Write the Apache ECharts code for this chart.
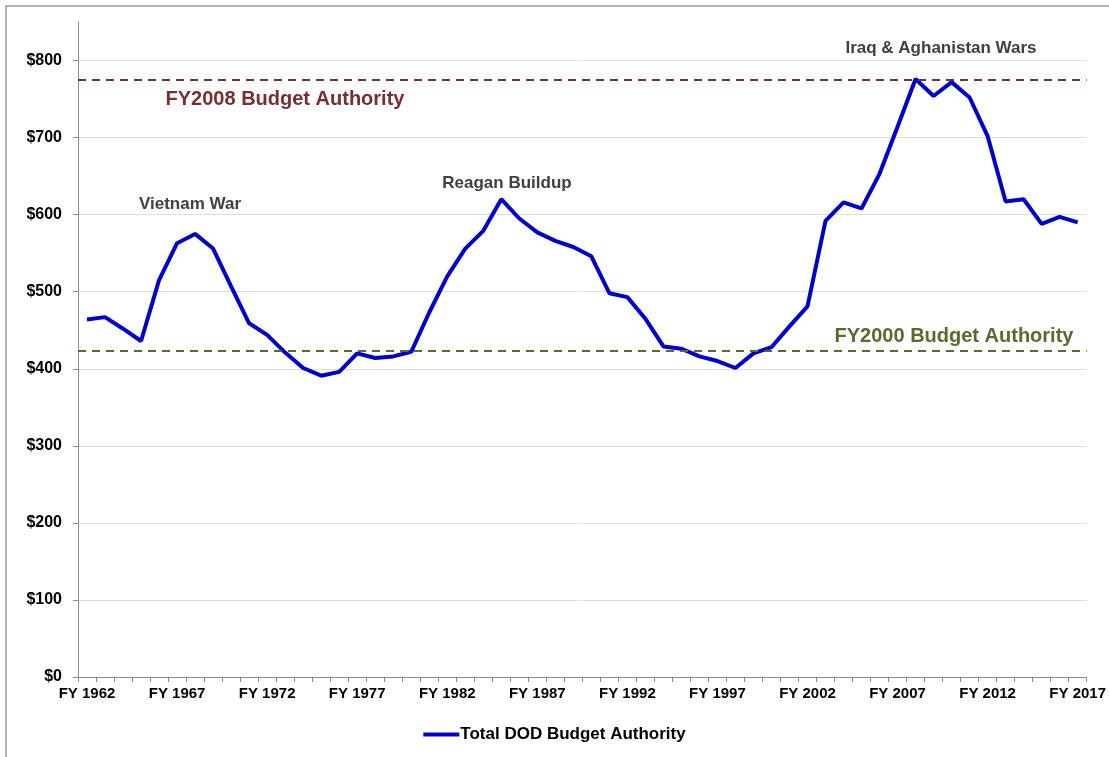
<!DOCTYPE html>
<html>
<head>
<meta charset="utf-8">
<script src="https://cdn.jsdelivr.net/npm/echarts@6/dist/echarts.min.js"></script>
<style>
  html, body { margin: 0; padding: 0; background: #fff; }
  #chart { width: 1109px; height: 757px; }
</style>
</head>
<body>
<div id="chart"></div>
<script>
// fiscal years FY 1962 .. FY 2017
const years = [];
for (let y = 1962; y <= 2017; y++) years.push('FY ' + y);

// total DOD budget authority (constant dollars, billions)
const dodBudget = [
  464, 467, 452, 436, 515, 563, 575, 556, 507, 459,
  444, 421, 401, 391, 396, 420, 414, 416, 422, 473,
  520, 556, 579, 620, 595, 577, 566, 558, 546, 498,
  493, 465, 429, 426, 416, 410, 401, 420, 428, 455,
  481, 592, 616, 608, 653, 714, 776, 754, 772, 752,
  702, 617, 620, 588, 597, 590
];

const fy2008Level = 775;
const fy2000Level = 424;

const FONT = '"Liberation Sans", Arial, sans-serif';
const darkRed = '#76302f';
const olive = '#576b2e';
const blue = '#0000cc';

const chart = echarts.init(document.getElementById('chart'), null, { renderer: 'canvas' });

// small helper for the free text notes
const note = (text, x, y, fill, size) => ({
  type: 'text', x, y, silent: true,
  style: { text, fill, font: 'bold ' + size + 'px ' + FONT, align: 'center', verticalAlign: 'middle' }
});

chart.setOption({
  animation: false,
  backgroundColor: '#fff',
  grid: { left: 78, right: 20, top: 22, bottom: 80 },
  legend: {
    bottom: 9,
    left: 'center',
    icon: 'rect',
    itemWidth: 36,
    itemHeight: 4,
    itemGap: 2,
    data: ['Total DOD Budget Authority'],
    textStyle: { fontFamily: FONT, fontWeight: 'bold', fontSize: 17, color: '#000', padding: [0, 0, 0, -4] }
  },
  xAxis: {
    type: 'category',
    data: years,
    boundaryGap: true,
    axisLine: { lineStyle: { color: '#8c8c8c', width: 1 } },
    axisTick: { show: true, interval: 0, length: 5, lineStyle: { color: '#8c8c8c' } },
    axisLabel: {
      interval: 4, margin: 9, color: '#000',
      fontFamily: FONT, fontWeight: 'bold', fontSize: 15
    },
    splitLine: { show: false }
  },
  yAxis: {
    type: 'value',
    min: 0,
    max: 850,
    interval: 100,
    axisLine: { show: true, lineStyle: { color: '#8c8c8c', width: 1 } },
    axisTick: { show: true, length: 5, lineStyle: { color: '#8c8c8c' } },
    axisLabel: {
      showMaxLabel: false, margin: 16, color: '#000',
      fontFamily: FONT, fontWeight: 'bold', fontSize: 16,
      formatter: v => '$' + v
    },
    splitLine: { show: true, showMaxLine: false, lineStyle: { color: '#dedede', width: 1 } }
  },
  series: [
    {
      name: 'Total DOD Budget Authority',
      type: 'line',
      data: dodBudget,
      symbol: 'none',
      smooth: false,
      z: 3,
      lineStyle: { color: blue, width: 4 },
      itemStyle: { color: blue },
      markLine: {
        silent: true,
        symbol: 'none',
        label: { show: false },
        data: [
          { yAxis: fy2008Level, lineStyle: { color: darkRed, width: 2, type: [8, 6] } },
          { yAxis: fy2000Level, lineStyle: { color: olive, width: 2, type: [8, 6] } }
        ]
      }
    }
  ],
  graphic: [
    {
      type: 'rect', silent: true, z: 0,
      shape: { x: 6, y: 6, width: 1300, height: 900 },
      style: { fill: 'none', stroke: '#9a9a9a', lineWidth: 1.5 }
    },
    note('FY2008 Budget Authority', 285, 99, darkRed, 20),
    note('FY2000 Budget Authority', 954, 336, olive, 20),
    note('Vietnam War', 190, 204, '#404040', 17),
    note('Reagan Buildup', 507, 183, '#404040', 17),
    note('Iraq & Aghanistan Wars', 941, 48, '#404040', 17)
  ]
});
</script>
</body>
</html>
